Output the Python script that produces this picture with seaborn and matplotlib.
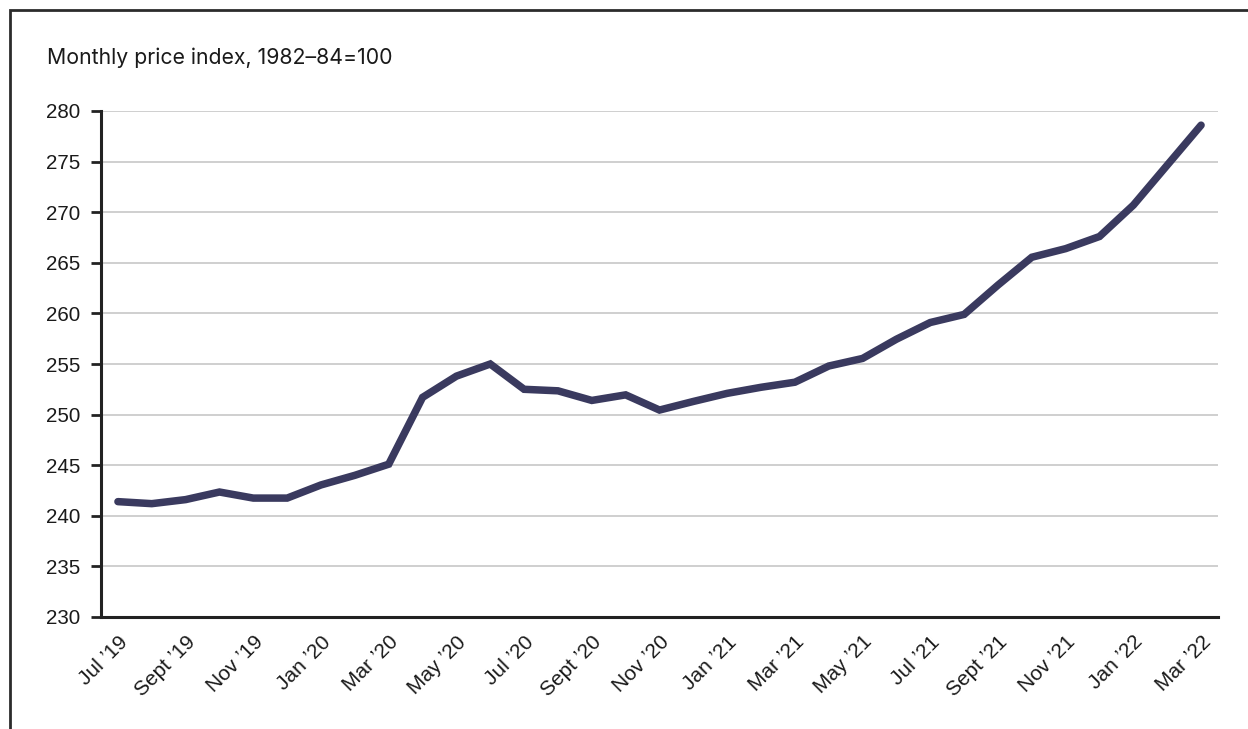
import matplotlib
matplotlib.use("Agg")
import matplotlib.pyplot as plt
import seaborn as sns
import pandas as pd
import numpy as np
from matplotlib.patches import Rectangle

months = ["Jul 2019", "Aug 2019", "Sep 2019", "Oct 2019", "Nov 2019", "Dec 2019",
          "Jan 2020", "Feb 2020", "Mar 2020", "Apr 2020", "May 2020", "Jun 2020",
          "Jul 2020", "Aug 2020", "Sep 2020", "Oct 2020", "Nov 2020", "Dec 2020",
          "Jan 2021", "Feb 2021", "Mar 2021", "Apr 2021", "May 2021", "Jun 2021",
          "Jul 2021", "Aug 2021", "Sep 2021", "Oct 2021", "Nov 2021", "Dec 2021",
          "Jan 2022", "Feb 2022", "Mar 2022"]
index_values = [241.4, 241.2, 241.6, 242.35, 241.75, 241.75,
                243.05, 244.0, 245.1, 251.7, 253.8, 255.0,
                252.5, 252.35, 251.4, 251.95, 250.45, 251.3,
                252.1, 252.7, 253.2, 254.8, 255.55, 257.45,
                259.1, 259.9, 262.8, 265.55, 266.4, 267.6,
                270.7, 274.65, 278.6]
tick_labels = ["Jul \u201919", "Sept \u201919", "Nov \u201919", "Jan \u201920", "Mar \u201920",
               "May \u201920", "Jul \u201920", "Sept \u201920", "Nov \u201920", "Jan \u201921",
               "Mar \u201921", "May \u201921", "Jul \u201921", "Sept \u201921", "Nov \u201921",
               "Jan \u201922", "Mar \u201922"]
y_ticks = [230, 235, 240, 245, 250, 255, 260, 265, 270, 275, 280]
title = "Monthly price index, 1982\u201384=100"

df = pd.DataFrame({"month": months, "idx": np.arange(len(months)), "value": index_values})

sns.set_theme(style="white")
plt.rcParams["font.family"] = ["Liberation Sans", "DejaVu Sans"]

W, H = 1248, 729
fig = plt.figure(figsize=(W / 100, H / 100), dpi=100)
ax = fig.add_axes([101 / W, 1 - 617 / H, (1218 - 101) / W, (617 - 111) / H])

# frame around the graphic (partially cropped)
fig.patches.append(Rectangle((10 / W, -0.1), 1.2, 1 - 10 / H + 0.1, transform=fig.transFigure,
                             fill=False, edgecolor="#2b2b2b", linewidth=2.0, zorder=0))

for y in y_ticks[1:]:
    ax.axhline(y, color="#cfcfcf", linewidth=1.4, zorder=1)

sns.lineplot(data=df, x="idx", y="value", ax=ax, color="#3a3a5f", linewidth=5.4,
             solid_capstyle="round", solid_joinstyle="miter", zorder=3)

ax.set_xlim(-0.5, len(months) - 0.5)
ax.set_ylim(230, 280)
ax.set_yticks(y_ticks)
ax.set_yticklabels([str(v) for v in y_ticks], fontsize=14.8, color="#1a1a1a")
ax.set_xticks(df["idx"][::2])
ax.set_xticklabels(tick_labels, rotation=45, ha="right", va="top", rotation_mode="anchor",
                   fontsize=15, color="#1a1a1a")
ax.tick_params(axis="y", which="both", left=True, length=7, width=2, color="#222222", pad=8)
ax.tick_params(axis="x", which="both", bottom=False, length=0, pad=11)
ax.set_xlabel("")
ax.set_ylabel("")
for s in ["top", "right"]:
    ax.spines[s].set_visible(False)
for s in ["left", "bottom"]:
    ax.spines[s].set_color("#222222")
    ax.spines[s].set_linewidth(2.2)

fig.text(47 / W, 1 - 58 / H, title, fontsize=15.3, color="#1a1a1a", ha="left", va="center",
         family=["Inter", "DejaVu Sans"])

fig.savefig("out.png", dpi=100, facecolor="white")
